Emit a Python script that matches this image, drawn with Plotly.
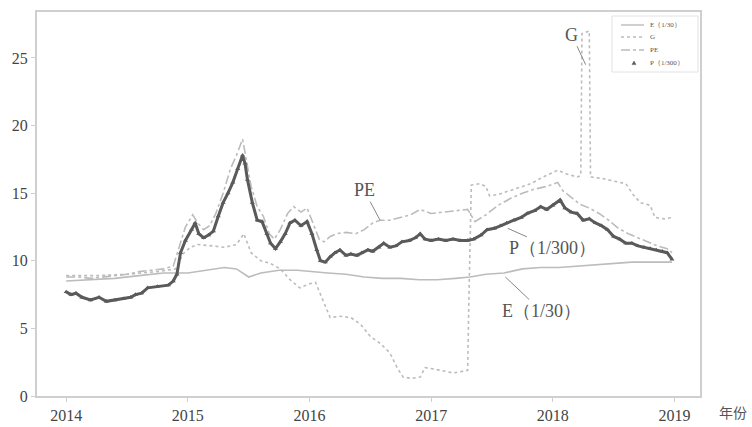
import plotly.graph_objects as go

# ---- P (1/300): index level scaled by 1/300 ----
p_year = [2014.00, 2014.04, 2014.08, 2014.13, 2014.20, 2014.27, 2014.33, 2014.40, 2014.47, 2014.53,
          2014.57, 2014.62, 2014.67, 2014.75, 2014.84, 2014.88, 2014.91, 2014.94, 2014.98, 2015.03,
          2015.06, 2015.09, 2015.13, 2015.17, 2015.21, 2015.25, 2015.29, 2015.33, 2015.37, 2015.41,
          2015.45, 2015.47, 2015.49, 2015.53, 2015.57, 2015.61, 2015.65, 2015.68, 2015.72, 2015.76,
          2015.80, 2015.84, 2015.88, 2015.93, 2015.98, 2016.02, 2016.06, 2016.09, 2016.13, 2016.17,
          2016.21, 2016.25, 2016.30, 2016.34, 2016.39, 2016.43, 2016.48, 2016.52, 2016.57, 2016.61,
          2016.66, 2016.71, 2016.76, 2016.82, 2016.87, 2016.91, 2016.95, 2017.00, 2017.06, 2017.12,
          2017.18, 2017.24, 2017.30, 2017.35, 2017.41, 2017.46, 2017.52, 2017.57, 2017.62, 2017.68,
          2017.74, 2017.79, 2017.85, 2017.90, 2017.95, 2018.00, 2018.06, 2018.10, 2018.15, 2018.20,
          2018.25, 2018.30, 2018.35, 2018.40, 2018.45, 2018.50, 2018.55, 2018.60, 2018.65, 2018.70,
          2018.75, 2018.80, 2018.85, 2018.90, 2018.94, 2018.98]
p_val = [7.7, 7.5, 7.6, 7.3, 7.1, 7.3, 7.0, 7.1, 7.2, 7.3,
         7.5, 7.6, 8.0, 8.1, 8.2, 8.5, 9.0, 10.6, 11.5, 12.3,
         12.8, 12.0, 11.7, 11.9, 12.2, 13.3, 14.3, 15.0, 15.8, 16.8,
         17.8, 17.2, 16.0, 14.3, 13.0, 12.9, 12.0, 11.3, 10.9, 11.4,
         12.0, 12.8, 13.0, 12.6, 12.9, 12.0, 10.8, 10.0, 9.9, 10.3,
         10.6, 10.8, 10.4, 10.5, 10.4, 10.6, 10.8, 10.7, 11.0, 11.3,
         11.0, 11.1, 11.4, 11.5, 11.7, 12.0, 11.6, 11.5, 11.6, 11.5,
         11.6, 11.5, 11.5, 11.6, 11.9, 12.3, 12.4, 12.6, 12.8, 13.0,
         13.2, 13.5, 13.7, 14.0, 13.8, 14.1, 14.5, 13.9, 13.6, 13.5,
         13.0, 13.1, 12.8, 12.6, 12.3, 11.8, 11.6, 11.3, 11.3, 11.1,
         11.0, 10.9, 10.8, 10.7, 10.6, 10.1]

# ---- PE ----
pe_year = [2014.00, 2014.10, 2014.20, 2014.30, 2014.40, 2014.50, 2014.60, 2014.70, 2014.80, 2014.88,
           2014.93, 2014.98, 2015.04, 2015.08, 2015.13, 2015.18, 2015.23, 2015.29, 2015.35, 2015.40,
           2015.45, 2015.48, 2015.52, 2015.57, 2015.62, 2015.67, 2015.71, 2015.76, 2015.82, 2015.87,
           2015.93, 2015.98, 2016.03, 2016.08, 2016.12, 2016.17, 2016.22, 2016.30, 2016.38, 2016.45,
           2016.52, 2016.58, 2016.66, 2016.75, 2016.83, 2016.91, 2017.00, 2017.10, 2017.20, 2017.30,
           2017.36, 2017.45, 2017.55, 2017.65, 2017.75, 2017.85, 2017.95, 2018.04, 2018.08, 2018.15,
           2018.22, 2018.30, 2018.38, 2018.46, 2018.54, 2018.62, 2018.70, 2018.78, 2018.86, 2018.94,
           2018.98]
pe_val = [8.8, 8.8, 8.7, 8.8, 8.9, 9.0, 9.2, 9.3, 9.4, 9.6,
          11.0, 12.5, 13.4, 12.8, 12.3, 12.6, 13.5, 15.0, 16.8, 17.8,
          19.0, 17.5, 15.5, 14.0, 13.3, 12.0, 11.6, 12.3, 13.5, 14.0,
          13.6, 13.9, 12.8, 11.6, 11.4, 11.8, 12.0, 12.1, 12.0, 12.3,
          12.8, 13.0, 13.0, 13.2, 13.4, 13.8, 13.5, 13.6, 13.7, 13.8,
          12.9, 13.4, 14.1, 14.6, 15.0, 15.3, 15.5, 15.8, 15.2, 14.7,
          14.2, 13.9, 13.5, 13.0, 12.4, 12.0, 11.7, 11.4, 11.1, 10.9,
          10.6]

# ---- G ----
g_year = [2014.00, 2014.25, 2014.50, 2014.75, 2014.90, 2014.96, 2015.02, 2015.08, 2015.20, 2015.30,
          2015.40, 2015.46, 2015.52, 2015.60, 2015.68, 2015.76, 2015.84, 2015.92, 2016.00, 2016.05,
          2016.10, 2016.17, 2016.25, 2016.34, 2016.42, 2016.50, 2016.58, 2016.66, 2016.72, 2016.77,
          2016.84, 2016.91, 2016.95, 2017.02, 2017.08, 2017.18, 2017.24, 2017.30, 2017.31, 2017.33,
          2017.40, 2017.45, 2017.48, 2017.55, 2017.65, 2017.75, 2017.82, 2017.92, 2018.04, 2018.12,
          2018.20, 2018.23, 2018.24, 2018.30, 2018.31, 2018.40, 2018.50, 2018.60, 2018.66, 2018.72,
          2018.80, 2018.84, 2018.92, 2018.98]
g_val = [8.9, 8.9, 9.0, 9.2, 9.4, 10.5, 11.0, 11.2, 11.1, 11.0,
         11.2, 12.0, 10.6, 10.0, 9.8, 9.4, 8.6, 8.0, 8.3, 8.4,
         7.3, 5.8, 5.9, 5.8, 5.3, 4.4, 3.9, 3.2, 2.1, 1.4,
         1.3, 1.4, 2.1, 2.0, 1.9, 1.7, 1.8, 1.9, 7.0, 15.6,
         15.7, 15.5, 14.8, 14.9, 15.2, 15.5, 15.7, 16.2, 16.7, 16.4,
         16.2, 16.3, 26.8, 27.0, 16.2, 16.1, 15.9, 15.7, 14.9, 14.3,
         14.1, 13.2, 13.1, 13.2]

# ---- E (1/30): earnings scaled by 1/30 ----
e_year = [2014.00, 2014.20, 2014.40, 2014.60, 2014.80, 2015.00, 2015.15, 2015.30, 2015.40, 2015.50,
          2015.60, 2015.75, 2015.90, 2016.00, 2016.15, 2016.30, 2016.45, 2016.60, 2016.75, 2016.90,
          2017.05, 2017.20, 2017.32, 2017.45, 2017.60, 2017.75, 2017.90, 2018.05, 2018.20, 2018.35,
          2018.50, 2018.65, 2018.80, 2018.98]
e_val = [8.5, 8.6, 8.7, 8.9, 9.1, 9.1, 9.3, 9.5, 9.4, 8.8,
         9.1, 9.3, 9.3, 9.2, 9.1, 9.0, 8.8, 8.7, 8.7, 8.6,
         8.6, 8.7, 8.8, 9.0, 9.1, 9.4, 9.5, 9.5, 9.6, 9.7,
         9.8, 9.9, 9.9, 9.9]

year_ticks = [2014, 2015, 2016, 2017, 2018, 2019]
value_ticks = [0, 5, 10, 15, 20, 25]
legend_names = ["E（1/30）", "G", "PE", "P（1/300）"]

SERIF = "Liberation Serif, Times New Roman, serif"
LIGHT = "#bcbcbc"
DARK = "#5a5a5a"

fig = go.Figure()
fig.add_trace(go.Scatter(x=e_year, y=e_val, mode="lines", name=legend_names[0],
                         line=dict(color=LIGHT, width=1.6)))
fig.add_trace(go.Scatter(x=g_year, y=g_val, mode="lines", name=legend_names[1],
                         line=dict(color=LIGHT, width=1.6, dash="dot")))
fig.add_trace(go.Scatter(x=pe_year, y=pe_val, mode="lines", name=legend_names[2],
                         line=dict(color=LIGHT, width=1.6, dash="dashdot")))
fig.add_trace(go.Scatter(x=p_year, y=p_val, mode="lines+markers", name=legend_names[3],
                         line=dict(color=DARK, width=3),
                         marker=dict(color=DARK, size=4.5, symbol="triangle-up")))

# in-plot labels with leader lines
label_font = dict(family=SERIF, size=18, color="#555555")
arrow = dict(showarrow=True, arrowhead=0, arrowwidth=1, arrowcolor="#888888", font=label_font)
fig.add_annotation(x=2016.58, y=13.0, text="PE", ax=-16, ay=-30, **arrow)
fig.add_annotation(x=2018.27, y=24.5, text="G", ax=-14, ay=-30, **arrow)
fig.add_annotation(x=2017.63, y=12.4, text="P（1/300）", ax=45, ay=20, **arrow)
fig.add_annotation(x=2017.61, y=8.8, text="E（1/30）", ax=36, ay=34, **arrow)
fig.add_annotation(xref="paper", yref="paper", x=1.025, y=-0.042, xanchor="left", yanchor="middle",
                   text="年份", showarrow=False,
                   font=dict(family="Noto Sans CJK SC", size=14, color="#555555"))

# compact legend box in the upper-right corner (paper coordinates)
PW, PH = 663.0, 384.0          # plot area size in px
def px_x(px):
    return (px - 37) / PW
def px_y(py):
    return (396 - py) / PH

fig.add_shape(type="rect", xref="paper", yref="paper",
              x0=px_x(612), x1=px_x(698), y0=px_y(72), y1=px_y(16),
              line=dict(color="#e2e2e2", width=1), fillcolor="white", layer="above")
row_y = [25, 37, 50, 63]
styles = [dict(color=LIGHT, width=1.4), dict(color=LIGHT, width=1.4, dash="dot"),
          dict(color=LIGHT, width=1.4, dash="dashdot")]
for i, st in enumerate(styles):
    fig.add_shape(type="line", xref="paper", yref="paper",
                  x0=px_x(621), x1=px_x(644), y0=px_y(row_y[i]), y1=px_y(row_y[i]),
                  line=st, layer="above")
# triangle marker sample for P
cx, cy = 634, row_y[3]
fig.add_shape(type="path", xref="paper", yref="paper", layer="above",
              path=f"M {px_x(cx - 2)} {px_y(cy + 1.6)} L {px_x(cx + 2)} {px_y(cy + 1.6)} "
                   f"L {px_x(cx)} {px_y(cy - 2)} Z",
              fillcolor=DARK, line=dict(color=DARK, width=0.5))
for i, name in enumerate(legend_names):
    fig.add_annotation(xref="paper", yref="paper", x=px_x(648), y=px_y(row_y[i]),
                       xanchor="left", yanchor="middle", text=name, showarrow=False,
                       font=dict(family=SERIF, size=7, color="#555555"))

axis_common = dict(showline=True, mirror=True, linecolor="#cfcfcf", linewidth=2,
                   ticks="outside", ticklen=4, tickcolor="#cfcfcf", showgrid=False, zeroline=False,
                   automargin=False,
                   tickfont=dict(family=SERIF, size=16, color="#444444"))
fig.update_xaxes(range=[2013.76, 2019.21], tickvals=year_ticks,
                 ticktext=[str(t) for t in year_ticks], **axis_common)
fig.update_yaxes(range=[0, 28.4], tickvals=value_ticks, **axis_common)

fig.update_layout(
    width=752, height=427,
    margin=dict(l=37, r=52, t=12, b=31),
    plot_bgcolor="white", paper_bgcolor="white",
    showlegend=False,
)

fig.write_html("out.html")
